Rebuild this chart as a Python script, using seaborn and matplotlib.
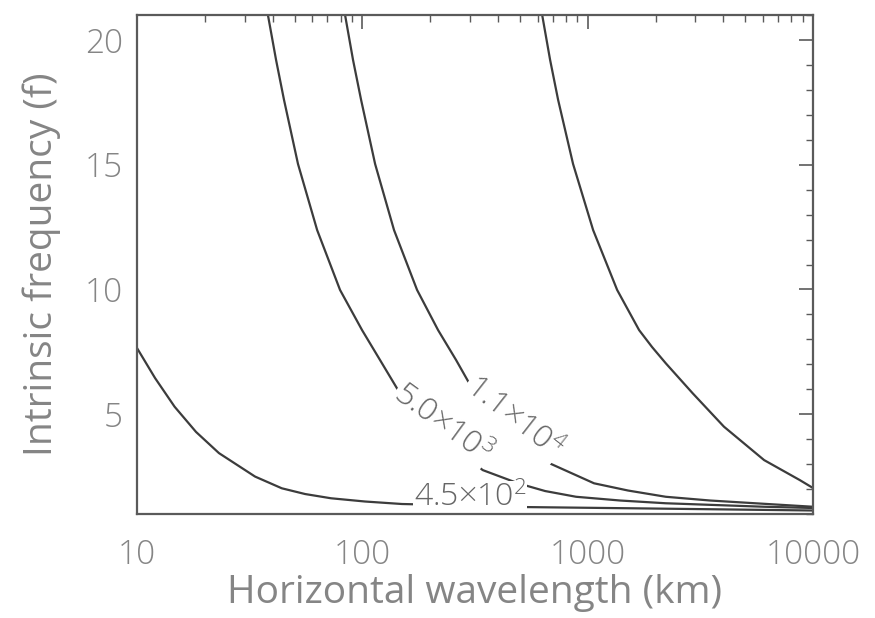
import matplotlib
matplotlib.use("Agg")
import matplotlib.pyplot as plt
from matplotlib.ticker import FixedLocator, MultipleLocator, LogLocator, NullFormatter
import seaborn as sns
import pandas as pd
import numpy as np

# ---- data ----
c1_x = [10, 12.02, 14.68, 18.27, 23.1, 33.4, 43.9, 55.7, 72.6, 102.8, 150, 300.6, 501, 1892, 10000]
c1_y = [7.65, 6.45, 5.30, 4.29, 3.44, 2.50, 2.03, 1.80, 1.63, 1.50, 1.40, 1.34, 1.28, 1.22, 1.14]

c2_x = [38.1, 41.4, 44.9, 51.8, 63.0, 79.6, 99.7, 119.8, 143.9, 180.4, 232.9, 342,
        491, 647, 888, 1393, 2221, 6070, 10000]
c2_y = [21.0, 19.2, 17.6, 15.03, 12.38, 9.98, 8.37, 7.17, 5.97, 4.97, 3.97, 2.76,
        2.23, 1.92, 1.69, 1.54, 1.43, 1.29, 1.24]

c3_x = [83.8, 90.9, 98.7, 113.9, 138.2, 174.9, 216.8, 260.6, 297.6, 368.8, 476, 678,
        1067, 1511, 2221, 3494, 5535, 10000]
c3_y = [21.0, 19.2, 17.6, 15.03, 12.38, 9.98, 8.37, 7.17, 6.25, 5.17, 4.17, 3.03,
        2.23, 1.94, 1.69, 1.54, 1.43, 1.29]

c4_x = [628, 681, 739, 861, 1057, 1351, 1691, 1931, 2221, 2922, 4023, 6066, 8730, 10000]
c4_y = [21.0, 19.2, 17.6, 15.03, 12.38, 9.98, 8.37, 7.69, 7.04, 5.84, 4.50, 3.16, 2.36, 2.04]

curve_names = ["c1", "c2", "c3", "c4"]
contour_labels = ["4.5×10$^2$", "5.0×10$^3$", "1.1×10$^4$"]
label_x = [300, 226, 467]
label_y = [1.64, 4.6, 4.85]
label_rot = [0, -36, -38]

x_ticks = [10, 100, 1000, 10000]
x_ticklabels = ["10", "100", "1000", "10000"]
y_ticks = [5, 10, 15, 20]

frames = []
for name, xs, ys in zip(curve_names, [c1_x, c2_x, c3_x, c4_x], [c1_y, c2_y, c3_y, c4_y]):
    frames.append(pd.DataFrame({"wavelength": xs, "freq": ys, "curve": name}))
df = pd.concat(frames, ignore_index=True)

sns.set_theme(style="white")
plt.rcParams["font.family"] = ["Open Sans", "DejaVu Sans"]
plt.rcParams["font.weight"] = "light"
plt.rcParams["mathtext.default"] = "regular"

text_color = "#858585"
label_color = "#666666"
line_color = "#3c3c3c"
frame_color = "#5a5a5a"

fig = plt.figure(figsize=(8.75, 6.18), dpi=100)
ax = fig.add_axes([0.1566, 0.1683, 0.7726, 0.8074])

sns.lineplot(data=df, x="wavelength", y="freq", units="curve", estimator=None,
             sort=False, color=line_color, linewidth=1.6, ax=ax, legend=False)

ax.set_xscale("log")
ax.set_xlim(10, 10000)
ax.set_ylim(1, 21)

ax.xaxis.set_major_locator(FixedLocator(x_ticks))
ax.set_xticklabels(x_ticklabels)
ax.xaxis.set_minor_locator(LogLocator(base=10, subs=np.arange(2, 10)))
ax.xaxis.set_minor_formatter(NullFormatter())
ax.yaxis.set_major_locator(FixedLocator(y_ticks))
ax.yaxis.set_minor_locator(MultipleLocator(1))

ax.tick_params(which="both", direction="in", top=True, right=True,
               color=frame_color, labelcolor=text_color)
ax.tick_params(which="major", length=10, width=1.2, labelsize=24)
ax.tick_params(which="minor", length=5, width=1.0)
ax.tick_params(axis="x", which="major", pad=18)
ax.tick_params(axis="y", which="major", pad=10)

for s in ax.spines.values():
    s.set_color(frame_color)
    s.set_linewidth(1.6)
    s.set_zorder(5)

ax.set_xlabel("Horizontal wavelength (km)", fontsize=28, color=text_color, labelpad=1)
ax.set_ylabel("Intrinsic frequency (f)", fontsize=28, color=text_color, labelpad=17)

for t, lx, ly, r in zip(contour_labels, label_x, label_y, label_rot):
    ax.text(lx, ly, t, rotation=r, rotation_mode="anchor", ha="center", va="center",
            fontsize=23, color=label_color, zorder=3,
            bbox=dict(facecolor="white", edgecolor="none", pad=0.8))

fig.savefig("out.png", dpi=100, facecolor="white")
